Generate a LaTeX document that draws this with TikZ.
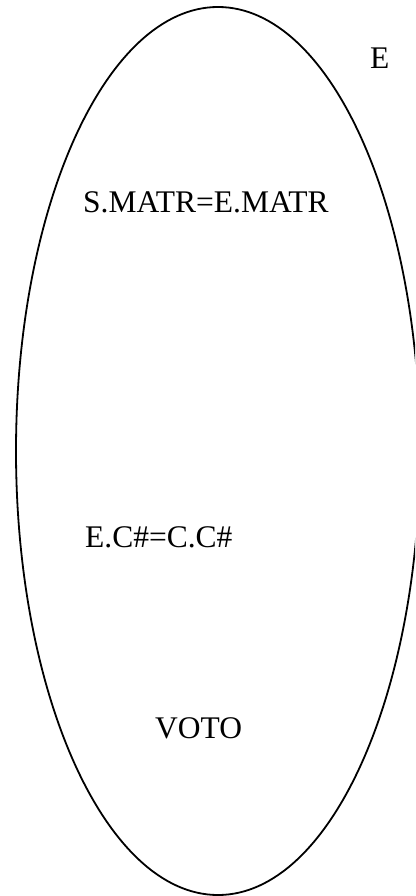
\documentclass[tikz,border=0pt]{standalone}
\usepackage{fontspec}
\setmainfont{Liberation Serif}
\usepackage{tikz}
\usetikzlibrary{shapes.geometric}

\begin{document}
\begin{tikzpicture}[
  x=1pt,y=-1pt,
  lbl/.style={anchor=base west,inner sep=0pt,font=\fontsize{31.5}{36}\selectfont},
  ent/.style={ellipse,draw,line width=1.8pt,inner sep=0pt,
              minimum width=404pt,minimum height=888pt}
]
  \useasboundingbox (0,0) rectangle (415,896);
  \clip (0,0) rectangle (415,896);

  \node[ent] (set) at (218,451) {};

  \node[lbl] (name) at (370,69) {E};
  \node[lbl] (join1) at (83,212) {S.MATR=E.MATR};
  \node[lbl] (join2) at (85,547) {E.C\#=C.C\#};
  \node[lbl] (vote) at (155,738) {VOTO};
\end{tikzpicture}
\end{document}
